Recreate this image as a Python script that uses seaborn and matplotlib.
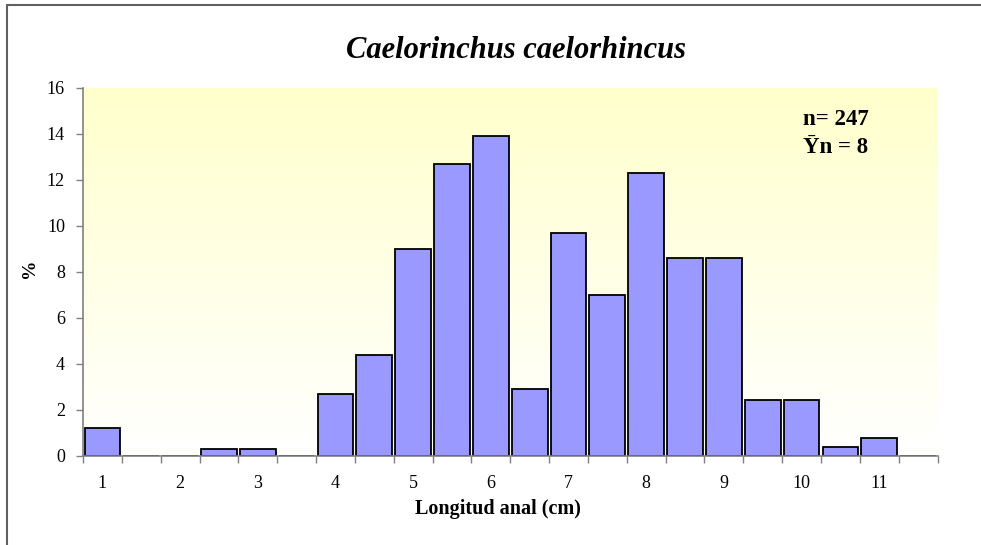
import numpy as np
import pandas as pd
import matplotlib
matplotlib.use("Agg")
import matplotlib.pyplot as plt
import seaborn as sns
from matplotlib.colors import LinearSegmentedColormap
from matplotlib.lines import Line2D

# ---- data ----
categories = ["1", "1.5", "2", "2.5", "3", "3.5", "4", "4.5", "5", "5.5", "6",
              "6.5", "7", "7.5", "8", "8.5", "9", "9.5", "10", "10.5", "11", "11.5"]
percent = [1.2, 0.0, 0.0, 0.3, 0.3, 0.0, 2.7, 4.4, 9.0, 12.7, 13.9,
           2.9, 9.7, 7.0, 12.3, 8.6, 8.6, 2.45, 2.45, 0.4, 0.8, 0.0]
tick_labels = ["1", "2", "3", "4", "5", "6", "7", "8", "9", "10", "11"]
y_ticks = [0, 2, 4, 6, 8, 10, 12, 14, 16]

df = pd.DataFrame({"longitud": categories, "pct": percent})

sns.set_theme(style="white")
plt.rcParams["font.family"] = ["Liberation Serif", "DejaVu Serif"]
plt.rcParams["text.color"] = "black"
plt.rcParams["axes.labelcolor"] = "black"
plt.rcParams["xtick.color"] = "black"
plt.rcParams["ytick.color"] = "black"

fig = plt.figure(figsize=(9.81, 5.45), dpi=100)
ax = fig.add_axes([83 / 981, 1 - 456 / 545, (937.5 - 83) / 981, (456 - 88) / 545])

# gradient background (light yellow to white)
cmap = LinearSegmentedColormap.from_list("bg", ["#FFFFFF", "#FFFFCC"])
grad = np.linspace(0, 1, 256).reshape(-1, 1)
ax.imshow(grad, aspect="auto", cmap=cmap, origin="lower",
          extent=[-0.5, len(categories) - 0.5, 0, 16], zorder=0)

sns.barplot(data=df, x="longitud", y="pct", order=categories, color="#9999FF",
            saturation=1, edgecolor="black", linewidth=1.3, width=0.92, ax=ax, zorder=2)

ax.set_xlim(-0.5, len(categories) - 0.5)
ax.set_ylim(0, 16)
ax.set_yticks(y_ticks)
ax.set_yticklabels([str(v) for v in y_ticks], fontsize=13)

bounds = np.arange(-0.5, len(categories), 1.0)
ax.set_xticks(bounds)
ax.set_xticklabels([""] * len(bounds))
ax.set_xticks(np.arange(0, len(categories), 2), minor=True)
ax.set_xticklabels(tick_labels, minor=True, fontsize=13)
ax.tick_params(axis="x", which="major", direction="out", length=5, width=1, color="#808080", bottom=True)
ax.tick_params(axis="x", which="minor", length=0, pad=14)
ax.tick_params(axis="y", direction="out", length=5, width=1, color="#808080", left=True, pad=8)

ax.set_xlabel("")
ax.set_ylabel("")
for s in ["top", "right"]:
    ax.spines[s].set_visible(False)
for s in ["left", "bottom"]:
    ax.spines[s].set_color("#808080")
    ax.spines[s].set_linewidth(1.2)
    ax.spines[s].set_zorder(3)

fig.text(516 / 981, 1 - 58 / 545, "Caelorinchus caelorhincus", ha="center", va="baseline",
         fontsize=22, fontweight="bold", fontstyle="italic")
fig.text(498 / 981, 1 - 514 / 545, "Longitud anal (cm)", ha="center", va="baseline",
         fontsize=14.5, fontweight="bold")
fig.text(29 / 981, 1 - 268 / 545, "%", ha="center", va="center", rotation=90,
         fontsize=14, fontweight="bold")
fig.text(836 / 981, 1 - 125 / 545, "n= 247", ha="center", va="baseline",
         fontsize=16.5, fontweight="bold")
fig.text(836 / 981, 1 - 153 / 545, "Ȳn = 8", ha="center", va="baseline",
         fontsize=16.5, fontweight="bold")

# figure border (top and left)
fig.add_artist(Line2D([6.5 / 981, 6.5 / 981], [0, 1 - 5 / 545], transform=fig.transFigure,
                      color="#606060", linewidth=1.5))
fig.add_artist(Line2D([6.5 / 981, 1], [1 - 5 / 545, 1 - 5 / 545], transform=fig.transFigure,
                      color="#606060", linewidth=1.5))

fig.savefig("out.png", dpi=100)
